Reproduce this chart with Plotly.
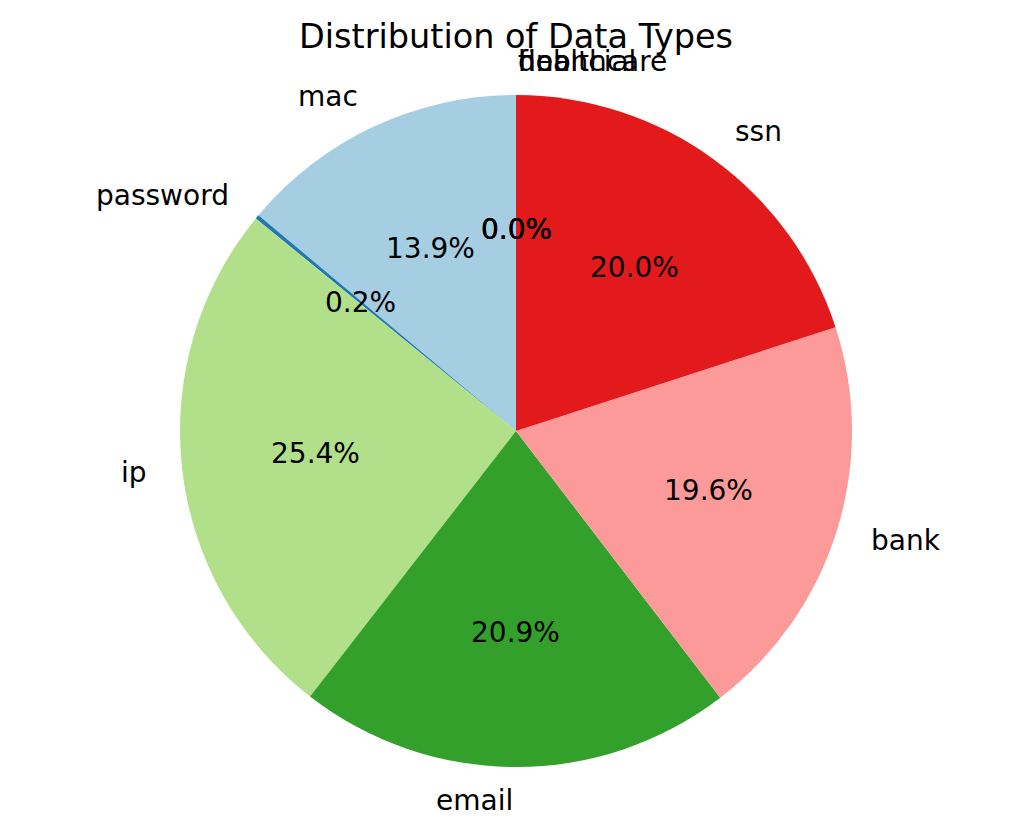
import numpy as np
import plotly.graph_objects as go

categories = ["mac", "password", "ip", "email", "bank", "ssn", "financial", "healthcare", "dob"]
values = [13.9, 0.2, 25.4, 20.9, 19.6, 20.0, 0.0, 0.0, 0.0]
colors = ["#a6cee3", "#1f78b4", "#b2df8a", "#33a02c", "#fb9a99", "#e31a1c",
          "#fdbf6f", "#ff7f00", "#cab2d6"]
title_text = "Distribution of Data Types"

W, H = 1031, 835
OFF = 8  # default page body margin
CX, CY, R = 516 - OFF, 431 - OFF, 336  # pie centre / radius in figure pixels
FONT = "DejaVu Sans"

vals = np.array(values, dtype=float)
total = vals.sum()

fig = go.Figure(go.Pie(
    labels=categories, values=values, sort=False, direction="counterclockwise",
    rotation=-360 * vals[0] / total, marker=dict(colors=colors, line=dict(width=0)),
    textinfo="none", hoverinfo="label+percent", showlegend=False,
    domain=dict(x=[(CX - R) / W, (CX + R) / W], y=[(H - CY - R) / H, (H - CY + R) / H]),
))

cum = np.concatenate([[0], np.cumsum(vals)[:-1]])
annotations = []
for lab, v, c in zip(categories, vals, cum):
    ang = np.deg2rad(90 + 360 * (c + v / 2) / total)
    ca, sa = np.cos(ang), np.sin(ang)
    lx, ly = CX + 1.1 * R * ca, CY - 1.1 * R * sa
    annotations.append(dict(
        x=lx / W, y=1 - ly / H, xref="paper", yref="paper", text=lab, showarrow=False,
        xanchor="left" if ca > -1e-9 else "right", yanchor="middle",
        font=dict(family=FONT, size=28, color="black")))
    px, py = CX + 0.6 * R * ca, CY - 0.6 * R * sa
    annotations.append(dict(
        x=px / W, y=1 - py / H, xref="paper", yref="paper", text=f"{100 * v / total:.1f}%",
        showarrow=False, xanchor="center", yanchor="middle",
        font=dict(family=FONT, size=28, color="black")))

annotations.append(dict(x=CX / W, y=1 - (36 - OFF) / H, xref="paper", yref="paper",
                        text=title_text, showarrow=False, xanchor="center", yanchor="middle",
                        font=dict(family=FONT, size=33.5, color="black")))

fig.update_layout(width=W, height=H, margin=dict(l=0, r=0, t=0, b=0),
                  paper_bgcolor="white", plot_bgcolor="white", annotations=annotations)

fig.write_html("out.html")
